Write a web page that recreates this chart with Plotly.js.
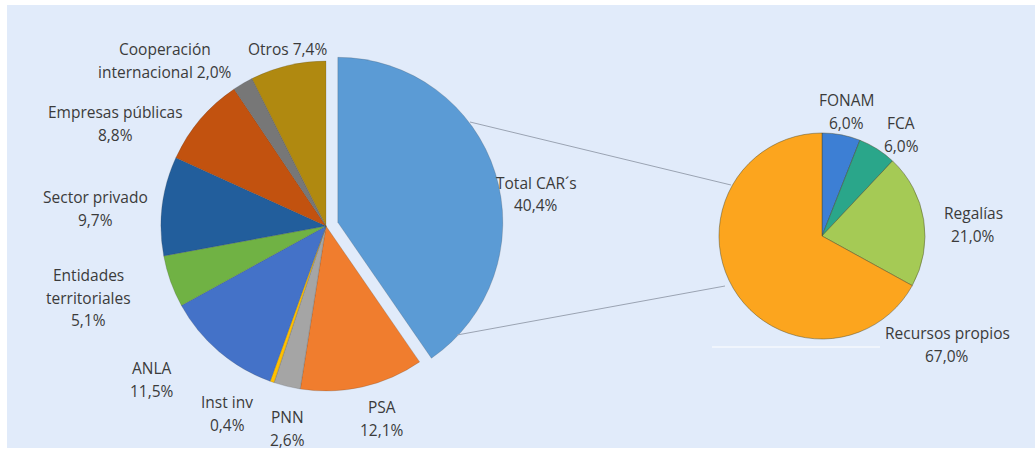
<!DOCTYPE html>
<html>
<head>
<meta charset="utf-8">
<script src="https://cdn.plot.ly/plotly-3.0.1.min.js"></script>
<style>html,body{margin:0;padding:0;background:#fff;}#chart{width:1035px;height:451px;}</style>
</head>
<body>
<div id="chart"></div>
<script>
// ---- Data ----
var mainLabels = ["Total CAR´s", "PSA", "PNN", "Inst inv", "ANLA", "Entidades territoriales", "Sector privado", "Empresas públicas", "Cooperación internacional", "Otros"];
var mainValues = [40.4, 12.1, 2.6, 0.4, 11.5, 5.1, 9.7, 8.8, 2.0, 7.4];
var mainColors = ["#5B9BD5", "#F07D2E", "#A5A5A5", "#FFC000", "#4472C8", "#70B244", "#225E9C", "#C2520F", "#777777", "#B08910"];

var subLabels = ["FONAM", "FCA", "Regalías", "Recursos propios"];
var subValues = [6.0, 6.0, 21.0, 67.0];
var subColors = ["#3D7FD4", "#2AA68A", "#A5CA55", "#FCA51E"];

// label display lines and first-line centre positions in px
var mainLabelLines = [["Total CAR´s"], ["PSA"], ["PNN"], ["Inst inv"], ["ANLA"], ["Entidades", "territoriales"], ["Sector privado"], ["Empresas públicas"], ["Cooperación", "internacional"], ["Otros"]];
var mainLabelPos = [[536,183],[382,407],[287,417],[227,402],[152,368],[88,275],[95,197],[115,112],[165,49],[287,49]];
var mainLabelInline = [false,false,false,false,false,false,false,false,true,true];

var subLabelLines = [["FONAM"], ["FCA"], ["Regalías"], ["Recursos propios"]];
var subLabelPos = [[846,100],[901,123],[973,213],[947,333]];

var W = 1035, H = 451;
function fmt(v){ return v.toFixed(1).replace('.', ',') + '%'; }
function px(x){ return x / W; }
function py(y){ return 1 - y / H; }

var LINE = 22.5;
var textColor = '#3B3B3B';
var annotations = [];
function addLabel(lines, value, pos, inline) {
  var all = lines.slice();
  if (inline) { all[all.length-1] = all[all.length-1] + ' ' + fmt(value); }
  else { all.push(fmt(value)); }
  for (var i = 0; i < all.length; i++) {
    annotations.push({
      xref: 'paper', yref: 'paper', x: px(pos[0]), y: py(pos[1] + i * LINE),
      xanchor: 'center', yanchor: 'middle', showarrow: false,
      text: all[i], font: {family: 'Open Sans, sans-serif', size: 15.5, color: textColor}
    });
  }
}
for (var i = 0; i < mainLabels.length; i++) {
  addLabel(mainLabelLines[i], mainValues[i], mainLabelPos[i], mainLabelInline[i]);
}
for (var j = 0; j < subLabels.length; j++) {
  addLabel(subLabelLines[j], subValues[j], subLabelPos[j], false);
}

// Pie geometry
var mainPull = mainValues.map(function(v, k){ return k === 0 ? 0.075 : 0; });
var mainR = 165, mainCx = 326, mainCy = 226;
var half = mainR * 1.075;
var subR = 103, subCx = 822, subCy = 236;

var traces = [
  {
    type: 'pie', labels: mainLabels, values: mainValues, sort: false, direction: 'clockwise', rotation: 0,
    pull: mainPull, textinfo: 'none', hoverinfo: 'label+value',
    marker: {colors: mainColors, line: {color: 'rgba(60,60,60,0.25)', width: 0.8}},
    domain: {x: [px(mainCx - half), px(mainCx + half)], y: [py(mainCy + half), py(mainCy - half)]},
    showlegend: false
  },
  {
    type: 'pie', labels: subLabels, values: subValues, sort: false, direction: 'clockwise', rotation: 0,
    textinfo: 'none', hoverinfo: 'label+value',
    marker: {colors: subColors, line: {color: 'rgba(70,70,40,0.45)', width: 1}},
    domain: {x: [px(subCx - subR), px(subCx + subR)], y: [py(subCy + subR), py(subCy - subR)]},
    showlegend: false
  }
];

var shapes = [
  {type: 'rect', xref: 'paper', yref: 'paper', x0: px(7), x1: px(1035), y0: py(448), y1: py(5),
   fillcolor: '#E1EBFA', line: {width: 0}, layer: 'below'},
  {type: 'line', xref: 'paper', yref: 'paper', x0: px(470), y0: py(122), x1: px(731), y1: py(185),
   line: {color: '#9AA3B2', width: 1}},
  {type: 'line', xref: 'paper', yref: 'paper', x0: px(457), y0: py(335), x1: px(725), y1: py(286),
   line: {color: '#9AA3B2', width: 1}},
  {type: 'line', xref: 'paper', yref: 'paper', x0: px(712), y0: py(347), x1: px(880), y1: py(347),
   line: {color: '#FFFFFF', width: 1}}
];

var layout = {
  width: W, height: H,
  margin: {l: 0, r: 0, t: 0, b: 0},
  paper_bgcolor: '#FFFFFF', plot_bgcolor: 'rgba(0,0,0,0)',
  showlegend: false,
  shapes: shapes,
  annotations: annotations
};

Plotly.newPlot('chart', traces, layout, {displayModeBar: false, staticPlot: true});
</script>
</body>
</html>
